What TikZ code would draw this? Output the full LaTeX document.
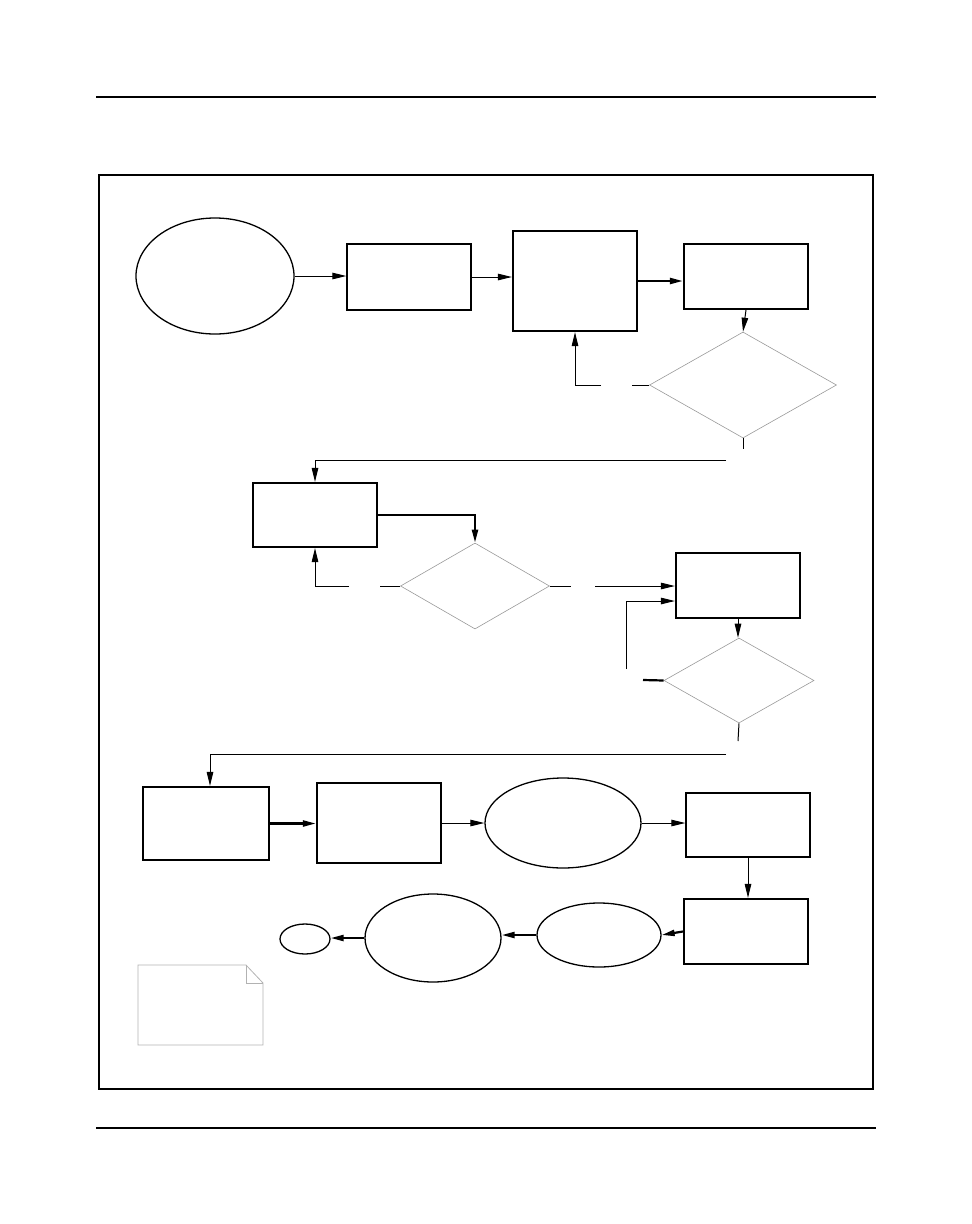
\documentclass[tikz,border=0pt]{standalone}
\usetikzlibrary{arrows.meta,shapes.geometric}
\begin{document}
\begin{tikzpicture}[x=1pt,y=-1pt,
  box/.style={draw,line width=1.3pt,inner sep=0pt,minimum width=124pt},
  tbox/.style={draw,line width=2.2pt,inner sep=0pt,minimum width=124pt},
  oval/.style={draw,ellipse,line width=1.3pt,inner sep=0pt},
  dia/.style={draw=gray!80,diamond,line width=0.6pt,inner sep=0pt},
  arr/.style={line width=1pt,-{Triangle[length=14pt,width=6.5pt]}},
  arrthick/.style={line width=2.2pt,-{Triangle[length=13pt,width=6pt]}},
  ln/.style={line width=1pt},
  lnthick/.style={line width=2.2pt}]
\useasboundingbox (0,0) rectangle (972,1224);
% page rules and frame
\draw[line width=1.2pt] (96,97) -- (876,97);
\draw[line width=1.2pt] (96,1128) -- (876,1128);
\draw[line width=2pt] (99,175) rectangle (873,1089);
% row 1
\node[oval,minimum width=158pt,minimum height=116pt] (e1) at (215,276) {};
\node[box,minimum height=66pt] (b1) at (409,277) {};
\node[tbox,minimum height=100pt] (b2) at (575,281) {};
\node[tbox,minimum height=65pt] (b3) at (746,276.5) {};
\node[dia,minimum width=187pt,minimum height=106pt] (d1) at (743,385) {};
% row 2
\node[tbox,minimum height=64pt] (b4) at (315,515) {};
\node[dia,minimum width=149pt,minimum height=86pt] (d2) at (475,586) {};
\node[tbox,minimum height=65pt] (b5) at (738,585.5) {};
\node[dia,minimum width=150pt,minimum height=85pt] (d3) at (739,680.5) {};
% row 3
\node[tbox,minimum width=126pt,minimum height=73pt] (b6) at (206,823.5) {};
\node[tbox,minimum height=80pt] (b7) at (379,823) {};
\node[oval,minimum width=156pt,minimum height=90pt] (e2) at (563,823) {};
\node[box,minimum height=64pt] (b8) at (748,825) {};
% row 4
\node[tbox,minimum height=65pt] (b9) at (746,931.5) {};
\node[oval,minimum width=124pt,minimum height=64pt] (e3) at (599,935) {};
\node[oval,minimum width=136pt,minimum height=88pt] (e4) at (433,938) {};
\node[oval,minimum width=50pt,minimum height=30pt] (e5) at (305,939) {};
% note with folded corner
\draw[gray!60,line width=0.8pt] (138,965) -- (246,965) -- (263,983) -- (263,1045) -- (138,1045) -- cycle;
\draw[gray!60,line width=0.8pt] (246,965) -- (246,983) -- (263,983);
% free-end coordinates
\coordinate (g1a) at (632,385);
\coordinate (g1b) at (601,385);
\coordinate (t1) at (743,449);
\coordinate (h1) at (726,460);
\coordinate (g2a) at (380,586);
\coordinate (g2b) at (349,586);
\coordinate (g3a) at (571,586);
\coordinate (g3b) at (595,586);
\coordinate (g4a) at (643,680);
\coordinate (g4b) at (626,669);
\coordinate (t2) at (738,741);
\coordinate (h2) at (726,754);
% connectors
\draw[arr] (e1.east) -- (b1.west |- e1.east);
\draw[arr] (b1.east) -- (b2.west |- b1.east);
\draw[arrthick] (b2.east) -- (b2.east -| b3.west);
\draw[arr] (b3.south) -- (d1.north);
\draw[ln] (d1.west) -- (g1a);
\draw[arr] (g1b) -| (b2.south);
\draw[ln] (d1.south) -- (t1);
\draw[arr] (h1) -| (b4.north);
\draw[arrthick] (b4.east) -| (d2.north);
\draw[ln] (d2.west) -- (g2a);
\draw[arr] (g2b) -| (b4.south);
\draw[ln] (d2.east) -- (g3a);
\draw[arr] (g3b) -- (g3b -| b5.west);
\draw[arr] (b5.south) -- (b5.south |- d3.north);
\draw[lnthick] (d3.west) -- (g4a);
\draw[arr] (g4b) |- ([yshift=-15.5pt]b5.west);
\draw[ln] (d3.south) -- (t2);
\draw[arr] (h2) -| ([xshift=4pt]b6.north);
\draw[arrthick] (b6.east) -- (b6.east -| b7.west);
\draw[arr] (b7.east) -- (e2.west);
\draw[arr] (e2.east) -- (e2.east -| b8.west);
\draw[arr] (b8.south) -- (b8.south |- b9.north);
\draw[arrthick] (b9.west) -- (e3.east);
\draw[arrthick] (e3.west) -- (e3.west -| e4.east);
\draw[arrthick] (e4.west) -- (e4.west -| e5.east);
\end{tikzpicture}
\end{document}
